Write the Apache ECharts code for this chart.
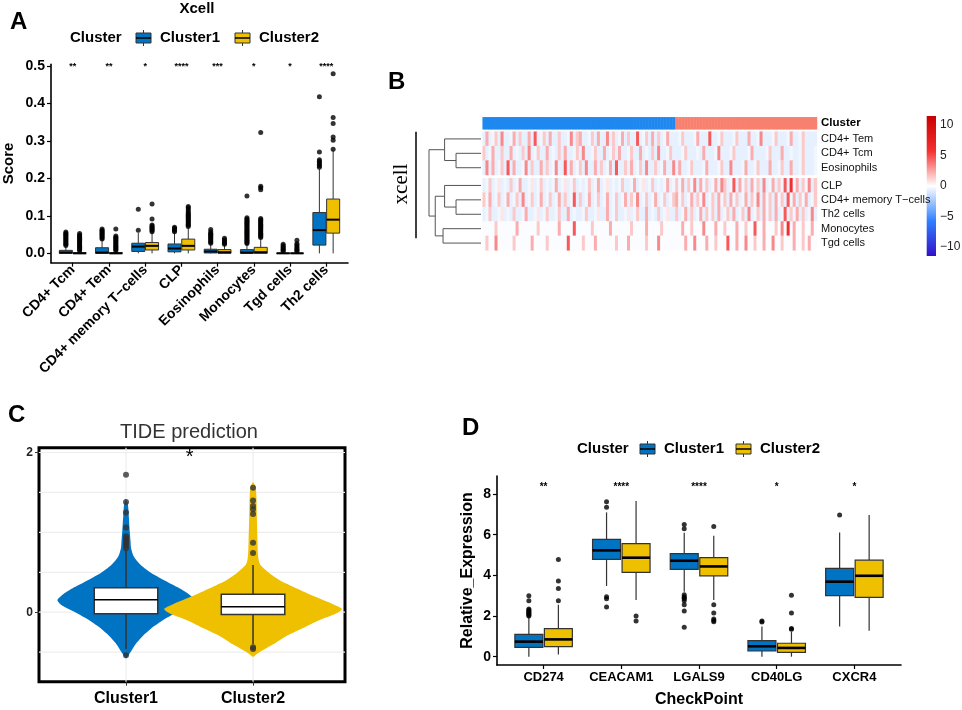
<!DOCTYPE html>
<html><head><meta charset="utf-8">
<script src="https://cdn.jsdelivr.net/npm/echarts@6/dist/echarts.min.js"></script>
<style>html,body{margin:0;padding:0;background:#fff}#c{width:962px;height:710px}</style>
</head><body><div id="c"></div>
<script>
// ================= DATA =================
// ---- Panel A : Xcell scores ----
const catsA = ['CD4+ Tcm','CD4+ Tem','CD4+ memory T\u2212cells','CLP','Eosinophils','Monocytes','Tgd cells','Th2 cells'];
// [lowWhisker, Q1, median, Q3, highWhisker]
const boxA1 = [[0,0,0.002,0.008,0.02],[0,0,0.002,0.015,0.036],[0,0.005,0.018,0.027,0.055],[0,0.004,0.013,0.025,0.055],
               [0,0.001,0.005,0.011,0.025],[0,0,0.002,0.01,0.024],[0,0,0,0.001,0.003],[0,0.022,0.062,0.109,0.225]];
const boxA2 = [[0,0,0,0.002,0.005],[0,0,0,0.002,0.005],[0,0.009,0.02,0.029,0.055],[0,0.009,0.02,0.038,0.068],
               [0,0,0.003,0.01,0.022],[0,0,0.003,0.016,0.04],[0,0,0,0.001,0.003],[0,0.054,0.09,0.145,0.275]];
const outA1 = [
  [0.021,0.024,0.027,0.030,0.033,0.036,0.039,0.042,0.045,0.048,0.051,0.054,0.057],
  [0.038,0.041,0.044,0.047,0.050,0.053,0.056,0.059,0.062,0.065],
  [0.062,0.118],
  [0.058,0.061,0.064,0.067,0.070],
  [0.027,0.030,0.033,0.036,0.039,0.042,0.045,0.048,0.051,0.054,0.058,0.064],
  [0.026,0.029,0.032,0.035,0.038,0.041,0.044,0.047,0.050,0.053,0.056,0.059,0.062,0.065,0.068,0.071,0.074,0.077,0.080,0.083,0.086,0.089,0.092,0.095,0.153],
  [0.005,0.008,0.011,0.014,0.017,0.020,0.024],
  [0.230,0.234,0.238,0.242,0.246,0.250,0.271,0.418]];
const outA2 = [
  [0.007,0.010,0.013,0.016,0.019,0.022,0.025,0.028,0.031,0.034,0.037,0.040,0.043,0.046,0.049,0.053],
  [0.007,0.010,0.013,0.016,0.019,0.022,0.025,0.028,0.031,0.034,0.037,0.040,0.043,0.046,0.065],
  [0.058,0.061,0.064,0.067,0.070,0.073,0.076,0.092,0.132],
  [0.072,0.075,0.078,0.081,0.084,0.087,0.090,0.093,0.096,0.099,0.102,0.105,0.108,0.112,0.117,0.122,0.125],
  [0.024,0.027,0.030,0.033,0.036,0.040],
  [0.042,0.045,0.048,0.051,0.054,0.057,0.060,0.063,0.066,0.069,0.072,0.075,0.078,0.081,0.084,0.087,0.090,0.093,0.170,0.175,0.179,0.323],
  [0.005,0.008,0.011,0.014,0.018,0.022,0.026,0.035],
  [0.278,0.302,0.311,0.347,0.363,0.480]];
const sigA = ['**','**','*','****','***','*','*','****'];
const sigLevelA = 0.5;
const ticksA = [0,0.1,0.2,0.3,0.4,0.5];

// ---- Panel B : heatmap ----
const rowsTop = ['CD4+ Tem','CD4+ Tcm','Eosinophils'];
const rowsBot = ['CLP','CD4+ memory T\u2212cells','Th2 cells','Monocytes','Tgd cells'];
// one character per sample column (level codes), Cluster1 then Cluster2
const heatC1 = [
  'a3ab2a4a ab3a2aa3 a5ab2a3a a2aab4a2 3aab2a3a a4a2ab3a 2aa5ab2a 3a2ab3aa',
  '2ab3aa2a a3aba2a4 ab2aa3ab a2a3aab2 a4aab2aa 3ab2a3aa b2aa3aba 2a4aab2a',
  'a4a3ab2a 5a3aab4a 2aa3a2ab 4aa5a3ab 2a4aa3a2 ab3a5aa2 a3ab2a4a a2ab3aa4',
  'ab2ab1ab a2ab3aab 1ab2abab 3ab1ab2a bab2ab3a b1abab2a ab3ab1ab 2abab3ab',
  '2b3ab2ab 3ab2a4ab 2ab3ab2a b3a2ab5a 2ab3ab2a b3ab2ab3 a2b4ab2a b3ab2ab2',
  'ab2aab1a ba2aab3a ab1ab2aa b2aa3aba ab2aab1a a3ab2aab 1ab2aa3a ba2ab1aa',
  'cccc2ccc ccc3cccc cc2ccccc c3cccc5c cccc2ccc cc3ccccc c2cccc3c ccc2cccc',
  'c2cc4ccc cc2ccccc 3cccc2cc cccc5ccc c2ccc3cc cccc2ccc 3ccccc2c cc4ccccc'];
const heatC2 = [
  'ab2aaab3 aaa5aab2 aaab2aaa 3aab4aaa b2aaab3a ab2aaaa',
  'aab2aaab a3aaab4a aab2aaaa b3aaaab2 aaa3aaba ab2aaab',
  'a3aab2aa ab3aaab2 aa4aaab3 aab2aaa3 aab2aa3a ab2aaab',
  '2b3a2b4a 3b2ab3a4 2ab5a3b2 a3b2a4ab 3a2b5a6b 3a2b4a2',
  '3b2ab3a2 b4ab2a3b 2a3b2ab3 a2b4a3b2 a3b2a5b3 a2b3ab2',
  '2ab3a2ab 3a2b2a3a b2a3ab2a 4ab2a3b2 a3ab5a2b 3a2ab4a',
  'cc3cc2cc c4ccc3cc 2ccc3cc2 cc5cc3cc c2c4c6c3 cc2cc3c',
  'ccc3cc4c cc3cc2cc c5cc3cc4 cc2cc3cc 4cc2ccc3 cc2c3cc'];
const levelValue = {a:-0.7, b:-0.35, c:-0.12, '1':0.7, '2':1.5, '3':2.3, '4':3.3, '5':4.6, '6':6};
// dendrogram merges: [childA, childB, height]  (leaves 0..7 in row order)
const dendroMerges = [[1,2,0.48],[0,8,0.70],[4,5,0.48],[3,10,0.70],[6,7,0.73],[11,12,0.88],[9,13,1.0]];
const colorbarTicks = [10,5,0,-5,-10];
const heatRange = [-11.5, 11.5];

// ---- Panel C : TIDE violin ----
const catsC = ['Cluster1','Cluster2'];
// [score, half-width] density outline
const violinC1 = [[-0.58,0],[-0.5,0.035],[-0.4,0.075],[-0.3,0.13],[-0.2,0.2],[-0.1,0.29],[0,0.4],[0.08,0.5],[0.15,0.54],[0.22,0.5],[0.3,0.42],[0.4,0.3],[0.5,0.19],[0.6,0.11],[0.7,0.06],[0.8,0.04],[0.9,0.035],[1.0,0.03],[1.2,0.022],[1.35,0.015],[1.42,0]];
const violinC2 = [[-0.56,0],[-0.5,0.05],[-0.4,0.16],[-0.3,0.26],[-0.2,0.39],[-0.1,0.52],[-0.02,0.65],[0.04,0.7],[0.1,0.63],[0.2,0.48],[0.3,0.34],[0.4,0.21],[0.5,0.12],[0.6,0.055],[0.7,0.04],[0.9,0.035],[1.2,0.03],[1.5,0.025],[1.6,0.012],[1.63,0]];
const boxC = [[-0.46,-0.02,0.155,0.305,0.78],[-0.40,-0.03,0.07,0.225,0.59]];
const outC1 = [0.80,0.83,0.86,0.88,0.90,0.93,0.95,1.06,1.25,1.38,1.72,-0.54];
const outC2 = [0.74,0.87,1.23,1.29,1.33,1.40,1.56,-0.44,-0.46];
const sigC = '*';
const sigLevelC = 1.94;
const ticksC = [0,2];
const gridLinesC = [-0.5,0,0.5,1,1.5,2];

// ---- Panel D : checkpoints ----
const catsD = ['CD274','CEACAM1','LGALS9','CD40LG','CXCR4'];
const boxD1 = [[0,0.46,0.74,1.1,1.95],[3.48,4.79,5.23,5.77,7.1],[3.2,4.3,4.72,5.07,6.1],[0,0.28,0.51,0.79,1.48],[1.48,3.0,3.69,4.34,6.11]];
const boxD2 = [[0.11,0.49,0.85,1.38,2.55],[2.79,4.15,4.87,5.56,7.66],[2.79,3.98,4.44,4.87,5.95],[0,0.21,0.43,0.66,1.23],[1.28,2.92,3.98,4.75,6.97]];
const outD1 = [[2.0,2.05,2.1,2.15,2.2,2.25,2.3,2.35,2.75,3.0],[7.35,7.62,2.95,2.85,2.45],[6.3,6.5,3.05,2.95,2.9,2.85,2.75,2.55,2.25,1.45],[1.7,1.75],[6.97]];
const outD2 = [[2.75,3.35,3.72,4.78],[2.0,1.75],[6.4,2.55,2.15,1.85,1.78,1.72],[1.35,1.38,2.15,3.02],[]];
const sigD = ['**','****','****','*','*'];
const sigLevelD = 8.33;
const ticksD = [0,2,4,6,8];

// ================= BUILD =================
const FONT = 'Liberation Sans, Arial, sans-serif';
const C1 = '#0073C2', C2 = '#EFC000';
const OFF = 0.19, BW = 0.36;
const chart = echarts.init(document.getElementById('c'));

function boxItems(b1, b2) {
  const d = [];
  b1.forEach((b, i) => d.push([i + 1 - OFF, ...b, 1]));
  b2.forEach((b, i) => d.push([i + 1 + OFF, ...b, 2]));
  return d;
}
function outItems(o1, o2) {
  const d = [];
  o1.forEach((arr, i) => arr.forEach(v => d.push([i + 1 - OFF, v])));
  o2.forEach((arr, i) => arr.forEach(v => d.push([i + 1 + OFF, v])));
  return d;
}
function boxRender(bw, lw, medW, fills, stroke) {
  return function (params, api) {
    const x = api.value(0);
    const lo = api.coord([x, api.value(1)]), q1 = api.coord([x, api.value(2)]),
          md = api.coord([x, api.value(3)]), q3 = api.coord([x, api.value(4)]),
          hi = api.coord([x, api.value(5)]);
    const hw = api.size([bw, 0])[0] / 2;
    const fill = fills[api.value(6) - 1];
    const cx = lo[0];
    return { type: 'group', children: [
      { type: 'line', shape: { x1: cx, y1: lo[1], x2: cx, y2: q1[1] }, style: { stroke, lineWidth: lw } },
      { type: 'line', shape: { x1: cx, y1: q3[1], x2: cx, y2: hi[1] }, style: { stroke, lineWidth: lw } },
      { type: 'rect', shape: { x: cx - hw, y: q3[1], width: 2 * hw, height: Math.max(q1[1] - q3[1], 0.5) }, style: { fill, stroke, lineWidth: lw } },
      { type: 'line', shape: { x1: cx - hw, y1: md[1], x2: cx + hw, y2: md[1] }, style: { stroke: '#000', lineWidth: medW } }
    ]};
  };
}
function textRender(texts, size, weight) {
  return function (params, api) {
    const p = api.coord([api.value(0), api.value(1)]);
    return { type: 'text', x: p[0], y: p[1], style: { text: texts[params.dataIndex], fontSize: size, fontWeight: weight, fontFamily: FONT, fill: '#000', align: 'center', verticalAlign: 'middle' } };
  };
}

// Panel B data
const clean = s => s.replace(/ /g, '');
const n1 = Math.max(...heatC1.map(s => clean(s).length));
const n2 = Math.max(...heatC2.map(s => clean(s).length));
const nCols = n1 + n2;
const colCats = Array.from({ length: nCols }, (_, i) => String(i));
const heatRows = heatC1.map((s, r) => {
  const bg = clean(s)[0] === 'c' ? 'c' : 'a';
  return clean(s).padEnd(n1, bg) + clean(heatC2[r]).padEnd(n2, bg);
});
const heatTop = [], heatBot = [];
heatRows.forEach((row, r) => {
  for (let j = 0; j < row.length; j++) {
    const v = levelValue[row[j]];
    if (r < rowsTop.length) heatTop.push([j, r, v]); else heatBot.push([j, r - rowsTop.length, v]);
  }
});
const clusterBar = colCats.map((_, j) => [j, 0, j < n1 ? 1 : 2]);

// dendrogram geometry
const TOP_H = 43.3, BOT_H = 72, GAP_PX = 3.3;
const rowPx = TOP_H / rowsTop.length;
const gapRows = GAP_PX / rowPx;
const totalRows = rowsTop.length + rowsBot.length + gapRows;
const leafY = r => r < rowsTop.length ? r + 0.5 : r + 0.5 + gapRows;
const nodes = [];
for (let r = 0; r < rowsTop.length + rowsBot.length; r++) nodes.push({ y: leafY(r), h: 0 });
const dendroData = dendroMerges.map(([a, b, h]) => {
  const na = nodes[a], nb = nodes[b];
  nodes.push({ y: (na.y + nb.y) / 2, h });
  return [na.h, na.y, h, nb.y, nb.h];
});

// graphics
const g = [];
function T(text, x, y, size, o = {}) {
  g.push({ type: 'text', x, y, rotation: o.rot || 0, style: { text, fontSize: size, fontWeight: o.weight || 'bold', fontFamily: o.family || FONT, fill: o.fill || '#000', align: o.align || 'left', verticalAlign: o.va || 'middle' } });
}
function glyph(x, y, color) {
  g.push({ type: 'line', shape: { x1: x + 7.5, y1: y - 8, x2: x + 7.5, y2: y + 8 }, style: { stroke: '#333', lineWidth: 1 } });
  g.push({ type: 'rect', shape: { x, y: y - 5, width: 15, height: 10 }, style: { fill: color, stroke: '#333', lineWidth: 1 } });
  g.push({ type: 'line', shape: { x1: x, y1: y, x2: x + 15, y2: y }, style: { stroke: '#000', lineWidth: 1.5 } });
}
function legend(x0, y, xs) {
  T('Cluster', x0, y, 15);
  glyph(xs[0], y, C1); T('Cluster1', xs[1], y, 15);
  glyph(xs[2], y, C2); T('Cluster2', xs[3], y, 15);
}
T('A', 10, 22, 24);
T('Xcell', 197, 9, 15, { align: 'center' });
legend(70, 38, [136, 160, 235, 259]);
T('B', 388, 82, 24);
T('xcell', 401, 184, 21, { weight: 'normal', family: 'Liberation Serif, DejaVu Serif, serif', align: 'center', rot: Math.PI / 2 });
g.push({ type: 'line', shape: { x1: 416, y1: 131.7, x2: 416, y2: 238.3 }, style: { stroke: '#000', lineWidth: 1.5 } });
// colorbar
const CB_Y0 = 186, CB_PX = 70 / heatRange[1];
const cbY = v => CB_Y0 - v * CB_PX;
g.push({ type: 'rect', shape: { x: 926.7, y: cbY(heatRange[1]), width: 9.3, height: cbY(heatRange[0]) - cbY(heatRange[1]) },
  style: { fill: new echarts.graphic.LinearGradient(0, 0, 0, 1, [
    { offset: 0, color: '#C80000' }, { offset: 0.25, color: '#F53030' }, { offset: 0.5, color: '#FFFFFF' },
    { offset: 0.75, color: '#2F80FF' }, { offset: 1, color: '#3210C8' }]) } });
colorbarTicks.forEach(v => T(String(v).replace('-', '\u2212'), 940, cbY(v), 12, { weight: 'normal', fill: '#222' }));
T('C', 8, 415, 24);
T('TIDE prediction', 189, 432, 20, { weight: 'normal', align: 'center', fill: '#333' });
T('D', 462, 428, 24);
legend(577, 449, [640, 664, 736, 760]);

const boldLabel = (size, extra = {}) => Object.assign({ color: '#000', fontWeight: 'bold', fontSize: size, fontFamily: FONT }, extra);

const option = {
  animation: false,
  backgroundColor: '#fff',
  graphic: { elements: g },
  grid: [
    { left: 46.7, top: 64.3, width: 301.3, height: 198.4 },
    { left: 482.7, top: 117.3, width: 334.3, height: 12 },
    { left: 482.7, top: 131.7, width: 334.3, height: TOP_H },
    { left: 482.7, top: 131.7 + TOP_H + GAP_PX, width: 334.3, height: BOT_H },
    { left: 429, top: 131.7, width: 52, height: TOP_H + GAP_PX + BOT_H },
    { left: 39, top: 447.7, width: 306, height: 234, show: true, borderColor: '#000', borderWidth: 3, backgroundColor: '#fff' },
    { left: 497, top: 476, width: 404, height: 189 }
  ],
  xAxis: [
    { gridIndex: 0, type: 'value', min: 0.4, max: catsA.length + 0.6, splitLine: { show: false },
      axisLine: { onZero: false, lineStyle: { color: '#000', width: 1.6 } },
      axisTick: { customValues: catsA.map((_, i) => i + 1), length: 4, lineStyle: { color: '#000', width: 1.2 } },
      axisLabel: boldLabel(14, { customValues: catsA.map((_, i) => i + 1), formatter: v => catsA[Math.round(v) - 1], rotate: 45, margin: 5 }) },
    { gridIndex: 1, type: 'category', data: colCats, show: false },
    { gridIndex: 2, type: 'category', data: colCats, show: false },
    { gridIndex: 3, type: 'category', data: colCats, show: false },
    { gridIndex: 4, type: 'value', min: 0, max: 1, inverse: true, show: false },
    { gridIndex: 5, type: 'value', min: 0.315, max: 2.724, splitLine: { show: false },
      axisLine: { show: false, onZero: false },
      axisTick: { customValues: [1, 2], length: 4, lineStyle: { color: '#333', width: 1 } },
      axisLabel: boldLabel(16, { customValues: [1, 2], formatter: v => catsC[Math.round(v) - 1], margin: 9 }) },
    { gridIndex: 6, type: 'value', min: 0.4, max: catsD.length + 0.6, splitLine: { show: false },
      axisLine: { onZero: false, lineStyle: { color: '#000', width: 1.6 } },
      axisTick: { customValues: catsD.map((_, i) => i + 1), length: 4, lineStyle: { color: '#000', width: 1.2 } },
      axisLabel: boldLabel(13, { customValues: catsD.map((_, i) => i + 1), formatter: v => catsD[Math.round(v) - 1], margin: 6 }),
      name: 'CheckPoint', nameLocation: 'middle', nameGap: 27, nameTextStyle: boldLabel(16) }
  ],
  yAxis: [
    { gridIndex: 0, type: 'value', min: -0.025, max: 0.505, splitLine: { show: false },
      axisLine: { show: true, onZero: false, lineStyle: { color: '#000', width: 1.6 } },
      axisTick: { show: true, customValues: ticksA, length: 4, lineStyle: { color: '#000', width: 1.2 } },
      axisLabel: boldLabel(14, { customValues: ticksA, formatter: v => v.toFixed(1), margin: 6 }),
      name: 'Score', nameLocation: 'middle', nameGap: 35, nameTextStyle: boldLabel(15) },
    { gridIndex: 1, type: 'category', data: ['Cluster'], position: 'right', axisLine: { show: false }, axisTick: { show: false },
      axisLabel: { interval: 0, color: '#000', fontWeight: 'bold', fontSize: 11.5, fontFamily: FONT, margin: 4 } },
    { gridIndex: 2, type: 'category', data: rowsTop, inverse: true, position: 'right', axisLine: { show: false }, axisTick: { show: false },
      axisLabel: { interval: 0, color: '#111', fontSize: 11, fontFamily: FONT, margin: 4 } },
    { gridIndex: 3, type: 'category', data: rowsBot, inverse: true, position: 'right', axisLine: { show: false }, axisTick: { show: false },
      axisLabel: { interval: 0, color: '#111', fontSize: 11, fontFamily: FONT, margin: 4 } },
    { gridIndex: 4, type: 'value', min: 0, max: totalRows, inverse: true, show: false },
    { gridIndex: 5, type: 'value', min: -0.87, max: 2.06, splitLine: { show: false },
      axisLine: { show: false, onZero: false },
      axisTick: { show: true, customValues: ticksC, length: 4, lineStyle: { color: '#333', width: 1 } },
      axisLabel: boldLabel(12, { customValues: ticksC, margin: 6, color: '#222' }) },
    { gridIndex: 6, type: 'value', min: -0.41, max: 8.89, splitLine: { show: false },
      axisLine: { show: true, onZero: false, lineStyle: { color: '#000', width: 1.6 } },
      axisTick: { show: true, customValues: ticksD, length: 4, lineStyle: { color: '#000', width: 1.2 } },
      axisLabel: boldLabel(14, { customValues: ticksD, margin: 6 }),
      name: 'Relative_Expression', nameLocation: 'middle', nameGap: 21, nameTextStyle: boldLabel(16) }
  ],
  visualMap: [
    { type: 'piecewise', show: false, seriesIndex: 3, dimension: 2, pieces: [{ value: 1, color: '#1E88F0' }, { value: 2, color: '#F8806F' }] },
    { type: 'continuous', show: false, seriesIndex: [4, 5], dimension: 2, min: heatRange[0], max: heatRange[1],
      inRange: { color: ['#3210C8', '#2F80FF', '#FFFFFF', '#F53030', '#C80000'] } }
  ],
  series: [
    { type: 'custom', xAxisIndex: 0, yAxisIndex: 0, data: boxItems(boxA1, boxA2), encode: { x: 0, y: [1, 5] },
      renderItem: boxRender(BW, 1, 2, [C1, C2], '#333'), silent: true },
    { type: 'scatter', xAxisIndex: 0, yAxisIndex: 0, data: outItems(outA1, outA2), symbolSize: 5, itemStyle: { color: '#000' }, silent: true },
    { type: 'custom', xAxisIndex: 0, yAxisIndex: 0, data: sigA.map((_, i) => [i + 1, sigLevelA]), renderItem: textRender(sigA, 9, 'bold'), silent: true },
    { type: 'heatmap', xAxisIndex: 1, yAxisIndex: 1, data: clusterBar, silent: true },
    { type: 'heatmap', xAxisIndex: 2, yAxisIndex: 2, data: heatTop, silent: true },
    { type: 'heatmap', xAxisIndex: 3, yAxisIndex: 3, data: heatBot, silent: true },
    { type: 'custom', xAxisIndex: 4, yAxisIndex: 4, data: dendroData, silent: true,
      renderItem: (params, api) => {
        const p1 = api.coord([api.value(0), api.value(1)]), p2 = api.coord([api.value(2), api.value(1)]),
              p3 = api.coord([api.value(2), api.value(3)]), p4 = api.coord([api.value(4), api.value(3)]);
        return { type: 'polyline', shape: { points: [p1, p2, p3, p4] }, style: { stroke: '#555', lineWidth: 1, fill: 'none' } };
      } },
    { type: 'custom', xAxisIndex: 5, yAxisIndex: 5, silent: true,
      data: gridLinesC.map(v => [0, v]).concat([[1, 1], [1, 2]]),
      renderItem: (params, api) => {
        const cs = params.coordSys;
        if (api.value(0) === 0) {
          const y = api.coord([1, api.value(1)])[1];
          return { type: 'line', shape: { x1: cs.x, y1: y, x2: cs.x + cs.width, y2: y }, style: { stroke: '#EEEEEE', lineWidth: 1.2 } };
        }
        const x = api.coord([api.value(1), 0])[0];
        return { type: 'line', shape: { x1: x, y1: cs.y, x2: x, y2: cs.y + cs.height }, style: { stroke: '#EEEEEE', lineWidth: 1.2 } };
      } },
    { type: 'custom', xAxisIndex: 5, yAxisIndex: 5, data: [[1, 1], [2, 2]], silent: true,
      renderItem: (params, api) => {
        const prof = [violinC1, violinC2][params.dataIndex];
        const cx = api.value(0);
        const right = prof.map(([y, w]) => api.coord([cx + w, y]));
        const left = prof.slice().reverse().map(([y, w]) => api.coord([cx - w, y]));
        return { type: 'polygon', shape: { points: right.concat(left), smooth: 0.25 }, style: { fill: api.value(1) === 1 ? C1 : C2 } };
      } },
    { type: 'custom', xAxisIndex: 5, yAxisIndex: 5, data: boxC.map((b, i) => [i + 1, ...b, i + 1]), encode: { x: 0, y: [1, 5] },
      renderItem: boxRender(0.5, 1.5, 1.5, ['#fff', '#fff'], '#333'), silent: true },
    { type: 'scatter', xAxisIndex: 5, yAxisIndex: 5, data: outC1.map(v => [1, v]).concat(outC2.map(v => [2, v])), symbolSize: 6, itemStyle: { color: '#333' }, silent: true },
    { type: 'custom', xAxisIndex: 5, yAxisIndex: 5, data: [[1.5, sigLevelC]], renderItem: textRender([sigC], 20, 'normal'), silent: true },
    { type: 'custom', xAxisIndex: 6, yAxisIndex: 6, data: boxItems(boxD1, boxD2), encode: { x: 0, y: [1, 5] },
      renderItem: boxRender(BW, 1.2, 2.6, [C1, C2], '#333'), silent: true },
    { type: 'scatter', xAxisIndex: 6, yAxisIndex: 6, data: outItems(outD1, outD2), symbolSize: 5, itemStyle: { color: '#000' }, silent: true },
    { type: 'custom', xAxisIndex: 6, yAxisIndex: 6, data: sigD.map((_, i) => [i + 1, sigLevelD]), renderItem: textRender(sigD, 10, 'bold'), silent: true }
  ]
};
chart.setOption(option);
</script>
</body></html>
